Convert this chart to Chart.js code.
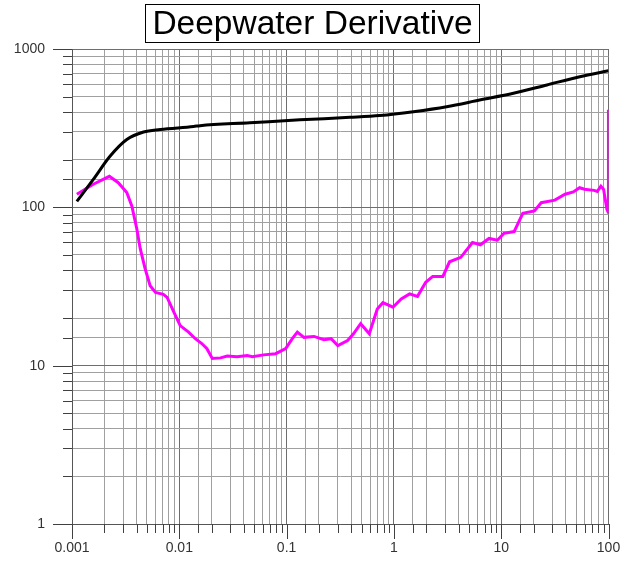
<!DOCTYPE html>
<html>
<head>
<meta charset="utf-8">
<title>Deepwater Derivative</title>
<script src="https://cdn.jsdelivr.net/npm/chart.js@4.4.1/dist/chart.umd.min.js"></script>
<style>
  body { margin: 0; background: #fff; }
  #chart { display: block; }
</style>
</head>
<body>
<canvas id="chart" width="629" height="565"></canvas>
<script>
// pressure curve (black)
const pressureX = [0.00111, 0.00158, 0.00226, 0.00324, 0.00464, 0.00664, 0.0136, 0.0156, 0.0455, 0.133, 0.39, 0.74, 1.52, 3.1, 6.3, 13, 26.7, 54, 100];
const pressureY = [109, 150, 210, 268, 299, 310, 324, 328, 342, 357, 370, 380, 402, 432, 476, 525, 593, 668, 728];

// derivative curve (magenta)
const derivX = [0.00111, 0.00158, 0.00223, 0.0027, 0.00324, 0.00361, 0.00402, 0.00432, 0.0048, 0.00535, 0.006, 0.0071, 0.0077, 0.0089,
  0.0102, 0.0122, 0.0141, 0.0162, 0.0181, 0.0203, 0.0242, 0.028, 0.0345, 0.043, 0.048, 0.061, 0.079, 0.098, 0.113, 0.126, 0.145,
  0.18, 0.223, 0.26, 0.30, 0.37, 0.42, 0.49, 0.59, 0.70, 0.79, 0.98, 1.17, 1.40, 1.66, 1.98, 2.30, 2.86, 3.30, 4.2, 5.4, 6.4, 7.7,
  9.2, 10.6, 13.2, 15.9, 20.4, 23.6, 31.6, 39.4, 47, 53.8, 59.6, 73.4, 78.6, 85, 90, 96.6, 99.3, 99.8, 100];
const derivY = [121, 140, 157, 143, 124, 102, 73, 55, 41, 32, 29, 28.2, 27, 21.8,
  17.9, 16.3, 14.8, 13.8, 12.8, 11.1, 11.2, 11.5, 11.4, 11.6, 11.4, 11.7, 11.9, 12.8, 14.8, 16.3, 15.1,
  15.3, 14.6, 14.8, 13.4, 14.4, 15.9, 18.4, 15.9, 22.8, 25, 23.4, 26.4, 28.4, 27.4, 33.6, 36.6, 36.6, 45.3, 48.3, 60, 58, 63.6,
  62, 68.5, 70.3, 91.6, 95, 107, 111, 121, 125, 133, 130, 128, 126, 136, 130, 97, 93, 161, 413];

const xTickLabels = ["0.001", "0.01", "0.1", "1", "10", "100"];
const yTickLabels = ["1", "10", "100", "1000"];

const toPoints = (xs, ys) => xs.map((x, i) => ({ x: x, y: ys[i] }));

function isDecade(v) {
  const l = Math.log10(v);
  return Math.abs(l - Math.round(l)) < 1e-6;
}

// little outside tick marks, long at decades, short elsewhere
const tickMarks = {
  id: "tickMarks",
  afterDraw(chart) {
    const ctx = chart.ctx;
    const area = chart.chartArea;
    const xs = chart.scales.x;
    const ys = chart.scales.y;
    ctx.save();
    ctx.strokeStyle = "#404040";
    ctx.lineWidth = 1;
    ctx.beginPath();
    ys.ticks.forEach(t => {
      const py = Math.round(ys.getPixelForValue(t.value)) + 0.5;
      const len = isDecade(t.value) ? 19 : 9;
      ctx.moveTo(area.left - len, py);
      ctx.lineTo(area.left, py);
    });
    xs.ticks.forEach(t => {
      const px = Math.round(xs.getPixelForValue(t.value)) + 0.5;
      const len = isDecade(t.value) ? 15 : 9;
      ctx.moveTo(px, area.bottom);
      ctx.lineTo(px, area.bottom + len);
    });
    ctx.stroke();
    ctx.restore();
  }
};

// box around the title text
const titleBox = {
  id: "titleBox",
  afterDraw(chart) {
    const ctx = chart.ctx;
    const opts = chart.options.plugins.title;
    const tb = chart.titleBlock;
    ctx.save();
    ctx.font = opts.font.size + "px " + opts.font.family;
    const w = ctx.measureText(opts.text).width;
    const cx = tb.left + tb.width / 2;
    ctx.strokeStyle = "#000";
    ctx.lineWidth = 1;
    ctx.strokeRect(Math.round(cx - w / 2 - 7) + 0.5, 4.5, Math.round(w + 14), 38);
    ctx.restore();
  }
};

const gridColor = c => isDecade(c.tick.value) ? "#6e6e6e" : "#a0a0a0";

new Chart(document.getElementById("chart"), {
  type: "line",
  data: {
    datasets: [
      {
        label: "Pressure",
        data: toPoints(pressureX, pressureY),
        borderColor: "#000000",
        borderWidth: 3,
        pointRadius: 0,
        cubicInterpolationMode: "monotone",
        fill: false
      },
      {
        label: "Derivative",
        data: toPoints(derivX, derivY),
        borderColor: "#ff00ff",
        borderWidth: 3,
        pointRadius: 0,
        tension: 0,
        fill: false
      }
    ]
  },
  options: {
    responsive: false,
    animation: false,
    layout: { padding: { left: 0, right: 4, top: 0, bottom: 0 } },
    plugins: {
      legend: { display: false },
      tooltip: { enabled: false },
      title: {
        display: true,
        text: "Deepwater Derivative",
        color: "#000",
        font: { family: "'Liberation Sans', Arial, sans-serif", size: 33.5, weight: "normal", lineHeight: 1.2 },
        padding: { top: 5, bottom: 3.8 }
      }
    },
    scales: {
      x: {
        type: "logarithmic",
        min: 0.001,
        max: 100,
        afterFit: s => { s.height = 41; s.paddingRight = 20.5; s.paddingLeft = 0; },
        grid: { color: gridColor, lineWidth: 1, drawTicks: false },
        border: { display: true, color: "#555" },
        ticks: {
          autoSkip: false,
          maxRotation: 0,
          padding: 16,
          color: "#333",
          font: { family: "'Liberation Sans', Arial, sans-serif", size: 14 },
          callback: v => isDecade(v) ? xTickLabels[Math.round(Math.log10(v)) + 3] : ""
        }
      },
      y: {
        type: "logarithmic",
        min: 1,
        max: 1000,
        afterFit: s => { s.width = 72; },
        grid: { color: gridColor, lineWidth: 1, drawTicks: false },
        border: { display: true, color: "#555" },
        ticks: {
          autoSkip: false,
          padding: 27,
          color: "#333",
          font: { family: "'Liberation Sans', Arial, sans-serif", size: 14 },
          callback: v => isDecade(v) ? yTickLabels[Math.round(Math.log10(v))] : ""
        }
      }
    }
  },
  plugins: [tickMarks, titleBox]
});
</script>
</body>
</html>
